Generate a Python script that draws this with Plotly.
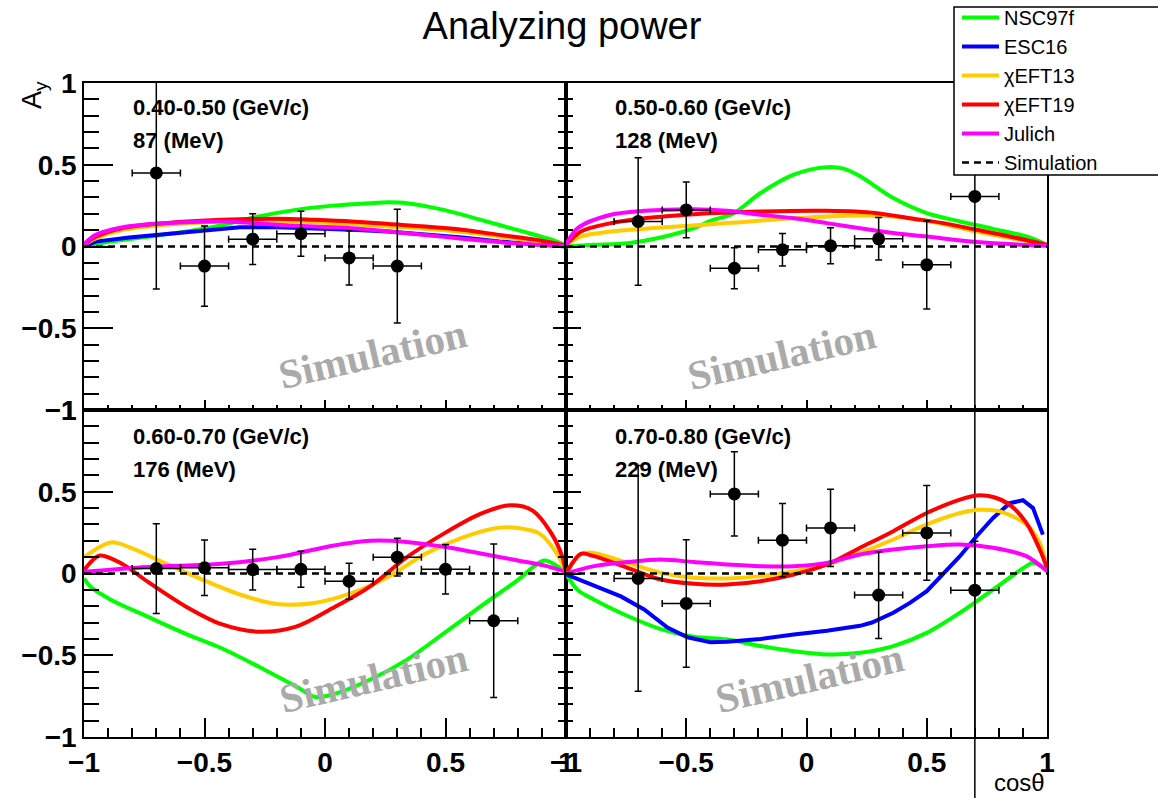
import plotly.graph_objects as go

W, H = 1158, 798

# ---------------- data ----------------
# bin centres of the measured points and their half widths
pt_x = [-0.7, -0.5, -0.3, -0.1, 0.1, 0.3, 0.5, 0.7]
pt_xerr = [0.1, 0.1, 0.1, 0.1, 0.1, 0.1, 0.1, 0.1]

# Panel 1: 0.40-0.50 GeV/c, 87 MeV
p1_label = ["0.40-0.50 (GeV/c)", "87 (MeV)"]
p1_pt_y = [0.45, -0.12, 0.045, 0.078, -0.07, -0.12]
p1_err_up = [0.71, 0.245, 0.155, 0.138, 0.166, 0.348]
p1_err_dn = [0.71, 0.245, 0.155, 0.138, 0.166, 0.348]
p1_nsc_x = [-1, -0.889, -0.736, -0.582, -0.429, -0.275, -0.121, 0.032, 0.186, 0.263, 0.34, 0.493, 0.647, 0.80, 0.954, 1.0]
p1_nsc_y = [0, 0.03, 0.06, 0.09, 0.13, 0.184, 0.224, 0.25, 0.265, 0.27, 0.265, 0.224, 0.163, 0.10, 0.035, 0.006]
p1_esc_x = [-1, -0.951, -0.813, -0.659, -0.505, -0.352, -0.198, -0.045, 0.109, 0.263, 0.416, 0.57, 0.724, 0.877, 1.0]
p1_esc_y = [0, 0.03, 0.055, 0.075, 0.096, 0.118, 0.118, 0.112, 0.102, 0.092, 0.075, 0.055, 0.03, 0.01, 0]
p1_eft_x = [-1, -0.951, -0.843, -0.659, -0.429, -0.198, -0.045, 0.109, 0.263, 0.416, 0.57, 0.724, 0.877, 1.0]
p1_eft13_y = [0.01, 0.05, 0.10, 0.133, 0.153, 0.157, 0.149, 0.137, 0.122, 0.108, 0.088, 0.061, 0.03, 0.006]
p1_eft19_y = [0.01, 0.06, 0.112, 0.143, 0.163, 0.17, 0.163, 0.153, 0.137, 0.122, 0.102, 0.071, 0.041, 0.006]
p1_jul_y = [0.014, 0.071, 0.116, 0.143, 0.153, 0.133, 0.122, 0.112, 0.092, 0.071, 0.047, 0.027, 0.01, 0.004]

# Panel 2: 0.50-0.60 GeV/c, 128 MeV  (last point has a very large lower error)
p2_label = ["0.50-0.60 (GeV/c)", "128 (MeV)"]
p2_pt_y = [0.153, 0.224, -0.133, -0.02, 0.004, 0.047, -0.112, 0.306]
p2_err_up = [0.39, 0.17, 0.125, 0.10, 0.11, 0.13, 0.27, 0.694]
p2_err_dn = [0.39, 0.17, 0.125, 0.10, 0.11, 0.13, 0.27, 4.0]
p2_nsc_x = [-1, -0.883, -0.744, -0.606, -0.468, -0.399, -0.302, -0.191, -0.053, 0.071, 0.154, 0.223, 0.361, 0.5, 0.638, 0.776, 0.914, 1.0]
p2_nsc_y = [0, 0.01, 0.02, 0.055, 0.112, 0.157, 0.204, 0.327, 0.439, 0.484, 0.476, 0.429, 0.296, 0.204, 0.153, 0.108, 0.061, 0.01]
p2_eft13_x = [-1, -0.938, -0.813, -0.606, -0.33, -0.053, 0.223, 0.361, 0.5, 0.707, 1.0]
p2_eft13_y = [0.01, 0.061, 0.092, 0.116, 0.143, 0.173, 0.19, 0.184, 0.157, 0.092, 0.01]
p2_eft19_x = [-1, -0.938, -0.813, -0.675, -0.468, -0.191, 0.085, 0.292, 0.43, 0.569, 0.707, 0.845, 1.0]
p2_eft19_y = [0.01, 0.092, 0.143, 0.173, 0.198, 0.214, 0.218, 0.204, 0.173, 0.143, 0.102, 0.061, 0.01]
p2_jul_x = [-1, -0.952, -0.813, -0.675, -0.468, -0.33, -0.191, -0.053, 0.085, 0.223, 0.361, 0.5, 0.707, 1.0]
p2_jul_y = [0.01, 0.112, 0.194, 0.218, 0.228, 0.218, 0.194, 0.173, 0.143, 0.112, 0.082, 0.061, 0.027, 0.004]

# Panel 3: 0.60-0.70 GeV/c, 176 MeV
p3_label = ["0.60-0.70 (GeV/c)", "176 (MeV)"]
p3_pt_y = [0.03, 0.035, 0.024, 0.026, -0.047, 0.10, 0.026, -0.289]
p3_err_up = [0.275, 0.17, 0.125, 0.11, 0.11, 0.115, 0.152, 0.47]
p3_err_dn = [0.275, 0.17, 0.125, 0.11, 0.11, 0.115, 0.152, 0.47]
p3_nsc_x = [-1, -0.974, -0.889, -0.736, -0.582, -0.429, -0.275, -0.121, -0.04, 0.032, 0.186, 0.339, 0.493, 0.647, 0.80, 0.908, 0.969, 1.0]
p3_nsc_y = [-0.03, -0.08, -0.16, -0.264, -0.366, -0.457, -0.57, -0.69, -0.755, -0.74, -0.65, -0.528, -0.366, -0.2, -0.04, 0.08, 0.04, 0.0]
p3_eft13_x = [-1, -0.889, -0.81, -0.66, -0.505, -0.35, -0.2, -0.045, 0.11, 0.263, 0.416, 0.57, 0.72, 0.80, 0.89, 0.954, 1.0]
p3_eft13_y = [0.1, 0.19, 0.16, 0.06, -0.04, -0.13, -0.187, -0.18, -0.12, -0.02, 0.12, 0.22, 0.28, 0.278, 0.244, 0.14, 0.01]
p3_eft19_x = [-1, -0.935, -0.843, -0.736, -0.58, -0.43, -0.275, -0.12, 0.03, 0.186, 0.34, 0.493, 0.647, 0.77, 0.86, 0.94, 0.985, 1.0]
p3_eft19_y = [0.02, 0.11, 0.06, -0.05, -0.2, -0.31, -0.356, -0.325, -0.213, -0.08, 0.10, 0.244, 0.366, 0.417, 0.386, 0.244, 0.10, 0.0]
p3_jul_x = [-1, -0.736, -0.43, -0.198, 0.032, 0.186, 0.339, 0.493, 0.647, 0.80, 0.908, 1.0]
p3_jul_y = [0.01, 0.04, 0.06, 0.10, 0.17, 0.20, 0.193, 0.163, 0.122, 0.08, 0.05, 0.01]

# Panel 4: 0.70-0.80 GeV/c, 229 MeV
p4_label = ["0.70-0.80 (GeV/c)", "229 (MeV)"]
p4_pt_y = [-0.03, -0.183, 0.487, 0.204, 0.279, -0.132, 0.248, -0.102]
p4_err_up = [0.69, 0.39, 0.257, 0.224, 0.236, 0.265, 0.29, 0.30]
p4_err_dn = [0.69, 0.39, 0.257, 0.224, 0.236, 0.265, 0.29, 1.40]
p4_nsc_x = [-1, -0.952, -0.883, -0.744, -0.606, -0.468, -0.33, -0.191, -0.053, 0.085, 0.223, 0.361, 0.5, 0.638, 0.776, 0.914, 0.942, 1.0]
p4_nsc_y = [0, -0.1, -0.16, -0.26, -0.34, -0.387, -0.403, -0.444, -0.475, -0.495, -0.485, -0.444, -0.363, -0.24, -0.098, 0.045, 0.065, 0.02]
p4_esc_x = [-1, -0.883, -0.772, -0.675, -0.578, -0.495, -0.399, -0.33, -0.191, -0.053, 0.085, 0.223, 0.272, 0.361, 0.43, 0.5, 0.638, 0.707, 0.776, 0.845, 0.90, 0.942, 0.983]
p4_esc_y = [-0.005, -0.077, -0.14, -0.22, -0.33, -0.39, -0.42, -0.418, -0.40, -0.373, -0.35, -0.32, -0.30, -0.24, -0.18, -0.108, 0.106, 0.228, 0.34, 0.43, 0.448, 0.40, 0.238]
p4_eft13_x = [-1, -0.938, -0.883, -0.744, -0.606, -0.468, -0.33, -0.191, -0.053, 0.085, 0.223, 0.361, 0.5, 0.638, 0.72, 0.804, 0.914, 0.97, 1.0]
p4_eft13_y = [0, 0.12, 0.126, 0.065, 0.004, -0.026, -0.03, -0.016, 0.014, 0.055, 0.126, 0.208, 0.30, 0.37, 0.39, 0.38, 0.30, 0.187, 0.035]
p4_eft19_x = [-1, -0.938, -0.883, -0.744, -0.606, -0.468, -0.33, -0.191, -0.053, 0.085, 0.223, 0.361, 0.5, 0.638, 0.707, 0.776, 0.845, 0.914, 0.97, 1.0]
p4_eft19_y = [0, 0.12, 0.106, 0.035, -0.037, -0.063, -0.067, -0.047, -0.006, 0.055, 0.157, 0.259, 0.37, 0.452, 0.477, 0.468, 0.42, 0.31, 0.147, 0.035]
p4_jul_x = [-1, -0.883, -0.744, -0.606, -0.468, -0.33, -0.191, -0.053, 0.085, 0.223, 0.361, 0.5, 0.638, 0.776, 0.914, 1.0]
p4_jul_y = [0, 0.045, 0.07, 0.085, 0.07, 0.055, 0.045, 0.045, 0.065, 0.116, 0.147, 0.167, 0.177, 0.157, 0.106, 0.014]

# "Simulation" reference line A_y = 0
sim_x = [-1, 1]
sim_y = [0, 0]

# axis ticks
major_ticks = [-1, -0.5, 0, 0.5, 1]
minor_ticks = [-0.9, -0.8, -0.7, -0.6, -0.4, -0.3, -0.2, -0.1, 0.1, 0.2, 0.3, 0.4, 0.6, 0.7, 0.8, 0.9]

# ---------------- styles ----------------
COLORS = {"NSC97f": "#00ff00", "ESC16": "#0000ff", "χEFT13": "#ffcc00",
          "χEFT19": "#ff0000", "Julich": "#ff00ff"}
SANS = "Liberation Sans"
SERIF = "Liberation Serif"


def px(v):
    return v / W


def py(v):
    return 1 - v / H


# panel frame geometry (pixels)
X_L, X_M, X_R = 84, 566, 1047
Y_T, Y_M, Y_B = 83, 410, 737

panels = [
    dict(xa="x", ya="y", label=p1_label, lab_xy=(131, 107, 140), wm=(373, 354),
         curves=[("NSC97f", p1_nsc_x, p1_nsc_y), ("ESC16", p1_esc_x, p1_esc_y),
                 ("χEFT13", p1_eft_x, p1_eft13_y), ("χEFT19", p1_eft_x, p1_eft19_y),
                 ("Julich", p1_eft_x, p1_jul_y)],
         pts=(pt_x[:6], p1_pt_y, p1_err_up, p1_err_dn, pt_xerr[:6]), split_last=False),
    dict(xa="x2", ya="y2", label=p2_label, lab_xy=(613, 107, 140), wm=(782, 355),
         curves=[("NSC97f", p2_nsc_x, p2_nsc_y),
                 ("χEFT13", p2_eft13_x, p2_eft13_y), ("χEFT19", p2_eft19_x, p2_eft19_y),
                 ("Julich", p2_jul_x, p2_jul_y)],
         pts=(pt_x, p2_pt_y, p2_err_up, p2_err_dn, pt_xerr), split_last=True),
    dict(xa="x3", ya="y3", label=p3_label, lab_xy=(131, 436, 469), wm=(374, 678),
         curves=[("NSC97f", p3_nsc_x, p3_nsc_y),
                 ("χEFT13", p3_eft13_x, p3_eft13_y), ("χEFT19", p3_eft19_x, p3_eft19_y),
                 ("Julich", p3_jul_x, p3_jul_y)],
         pts=(pt_x, p3_pt_y, p3_err_up, p3_err_dn, pt_xerr), split_last=False),
    dict(xa="x4", ya="y4", label=p4_label, lab_xy=(613, 436, 469), wm=(810, 678),
         curves=[("NSC97f", p4_nsc_x, p4_nsc_y), ("ESC16", p4_esc_x, p4_esc_y),
                 ("χEFT13", p4_eft13_x, p4_eft13_y), ("χEFT19", p4_eft19_x, p4_eft19_y),
                 ("Julich", p4_jul_x, p4_jul_y)],
         pts=(pt_x, p4_pt_y, p4_err_up, p4_err_dn, pt_xerr), split_last=False),
]


def point_trace(xs, ys, eu, ed, ex, xa, ya):
    return go.Scatter(
        x=xs, y=ys, mode="markers", showlegend=False,
        marker=dict(color="black", size=13),
        error_y=dict(type="data", symmetric=False, array=eu, arrayminus=ed,
                     color="black", thickness=1.5, width=3.5),
        error_x=dict(type="data", array=ex, color="black", thickness=1.5, width=3.5),
        xaxis=xa, yaxis=ya, hoverinfo="skip")


fig = go.Figure()
annotations = []
first = True
for p in panels:
    for name, xs, ys in p["curves"]:
        fig.add_trace(go.Scatter(
            x=xs, y=ys, mode="lines", name=name, legendgroup=name, showlegend=first,
            line=dict(color=COLORS[name], width=4,
                      shape="linear" if name == "ESC16" else "spline", smoothing=0.9),
            xaxis=p["xa"], yaxis=p["ya"], hoverinfo="skip"))
    fig.add_trace(go.Scatter(
        x=sim_x, y=sim_y, mode="lines", name="Simulation", legendgroup="Simulation",
        showlegend=first, line=dict(color="black", width=2.5, dash="7px,5px"),
        xaxis=p["xa"], yaxis=p["ya"], hoverinfo="skip"))
    xs, ys, eu, ed, ex = p["pts"]
    if p["split_last"]:
        fig.add_trace(point_trace(xs[:-1], ys[:-1], eu[:-1], ed[:-1], ex[:-1], p["xa"], p["ya"]))
        # the last point's error bar runs down through the lower panel (as in the original)
        fig.add_trace(point_trace(xs[-1:], ys[-1:], eu[-1:], ed[-1:], ex[-1:], p["xa"], "y7"))
    else:
        fig.add_trace(point_trace(xs, ys, eu, ed, ex, p["xa"], p["ya"]))
    first = False

    lx, ly1, ly2 = p["lab_xy"]
    for txt, yy in ((p["label"][0], ly1), (p["label"][1], ly2)):
        annotations.append(dict(text=txt, x=px(lx), y=py(yy), xref="paper", yref="paper",
                                xanchor="left", yanchor="middle", showarrow=False,
                                font=dict(family=SANS, size=22, color="black", weight="bold")))
    wx, wy = p["wm"]
    annotations.append(dict(text="Simulation", x=px(wx), y=py(wy), xref="paper", yref="paper",
                            xanchor="center", yanchor="middle", showarrow=False, textangle=-13,
                            font=dict(family=SERIF, size=41, color="#aaaaaa", weight="bold")))

# dummy traces for the mirrored tick axes
fig.add_trace(go.Scatter(x=[None], y=[None], xaxis="x", yaxis="y5", showlegend=False, hoverinfo="skip"))
fig.add_trace(go.Scatter(x=[None], y=[None], xaxis="x3", yaxis="y6", showlegend=False, hoverinfo="skip"))

xL = [px(X_L), px(X_M)]
xR = [px(X_M), px(X_R)]
yT = [py(Y_M), py(Y_T)]
yB = [py(Y_B), py(Y_M)]

# extended y axis sharing the upper-right panel's scale, down to the canvas bottom
unit_px = (Y_M - Y_T) / 2.0
y7_low = 1 - (H - Y_T) / unit_px

tickfont = dict(family=SANS, size=28, color="black", weight="bold")


def axis(domain, anchor, ticklen, minorlen, labels, **kw):
    d = dict(domain=domain, anchor=anchor, range=[-1, 1], showgrid=False, zeroline=False,
             automargin=False,
             showline=True, linecolor="black", linewidth=1.5, mirror=True,
             ticks="inside", ticklen=ticklen, tickwidth=1.5, tickcolor="black",
             tickmode="array", tickvals=major_ticks, showticklabels=labels,
             tickfont=tickfont,
             minor=dict(tickmode="array", tickvals=minor_ticks, ticks="inside",
                        ticklen=minorlen, tickwidth=1.5, tickcolor="black"))
    d.update(kw)
    return d


def mirror_axis(over, anchor):
    return dict(overlaying=over, anchor=anchor, side="right", range=[-1, 1],
                showgrid=False, zeroline=False, showline=False, automargin=False,
                ticks="inside", ticklen=13, tickwidth=1.5, tickcolor="black",
                tickmode="array", tickvals=major_ticks, showticklabels=False,
                minor=dict(tickmode="array", tickvals=minor_ticks, ticks="inside",
                           ticklen=8, tickwidth=1.5, tickcolor="black"))


annotations += [
    dict(text="A<sub>y</sub>", x=px(34), y=py(95), xref="paper", yref="paper",
         xanchor="center", yanchor="middle", showarrow=False, textangle=-90,
         font=dict(family=SANS, size=27, color="black")),
    dict(text="cosθ", x=px(1047), y=0, xref="paper", yref="paper",
         xanchor="right", yanchor="bottom", showarrow=False,
         font=dict(family=SANS, size=24, color="black")),
]

fig.update_layout(
    width=W, height=H, margin=dict(l=0, r=0, t=0, b=0, autoexpand=False),
    paper_bgcolor="white", plot_bgcolor="rgba(0,0,0,0)",
    title=dict(text="Analyzing power", x=px(562), xanchor="center", y=py(26), yanchor="middle",
               font=dict(family=SANS, size=38, color="black"), automargin=False),
    xaxis=axis(xL, "y", 10, 5, False),
    yaxis=axis(yT, "x", 29, 15, True),
    xaxis2=axis(xR, "y2", 10, 5, False),
    yaxis2=axis(yT, "x2", 15, 7, False),
    xaxis3=axis(xL, "y3", 19, 9, True),
    yaxis3=axis(yB, "x3", 29, 15, True),
    xaxis4=axis(xR, "y4", 19, 9, True),
    yaxis4=axis(yB, "x4", 15, 7, False),
    yaxis5=mirror_axis("y", "x"),
    yaxis6=mirror_axis("y3", "x3"),
    yaxis7=dict(domain=[0, py(Y_T)], anchor="x2", range=[y7_low, 1], visible=False,
                automargin=False, showgrid=False, zeroline=False),
    legend=dict(x=px(957), y=py(-2), xanchor="left", yanchor="top",
                bgcolor="rgba(0,0,0,0)", borderwidth=0, tracegroupgap=0, itemwidth=37,
                font=dict(family=SANS, size=20, color="black")),
    shapes=[dict(type="rect", xref="paper", yref="paper", x0=px(954), x1=1.01,
                 y0=py(175), y1=py(7), line=dict(color="black", width=1.5),
                 fillcolor="white", layer="above")],
    annotations=annotations,
)

fig.write_html("out.html")
